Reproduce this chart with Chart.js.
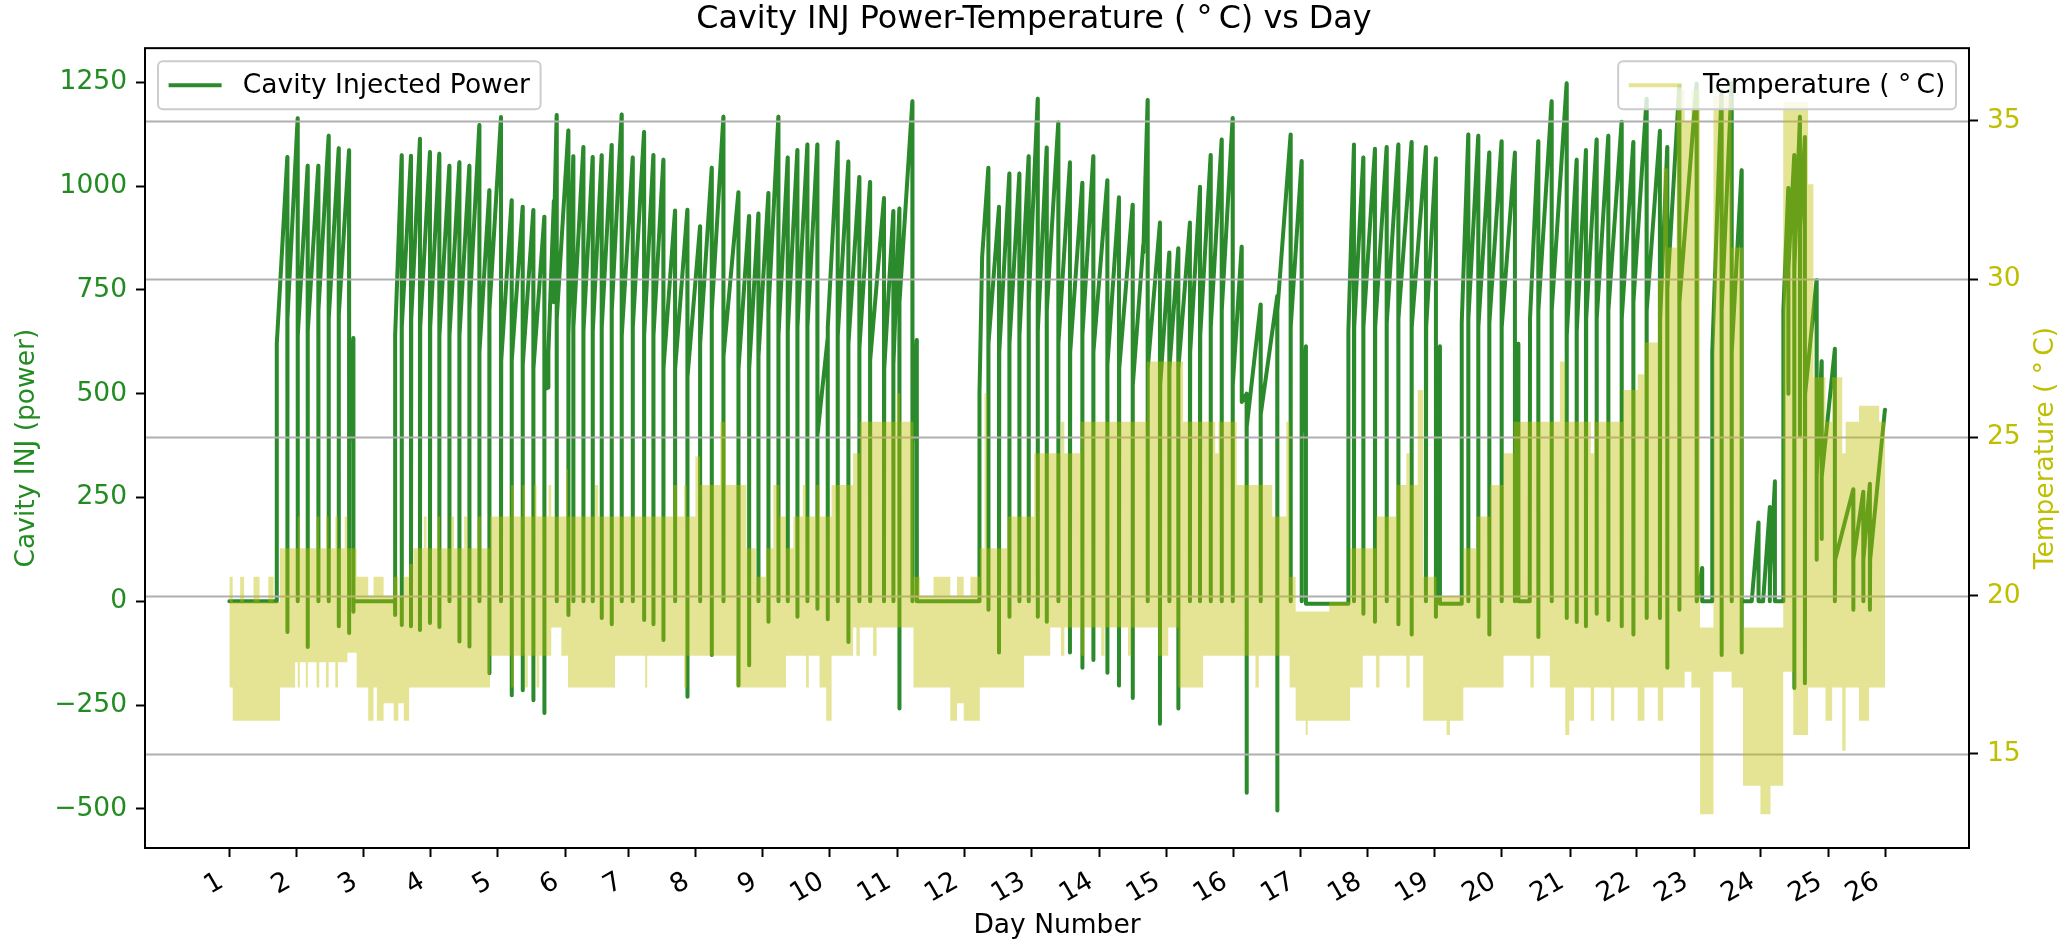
<!DOCTYPE html>
<html>
<head>
<meta charset="utf-8">
<title>Cavity INJ Power-Temperature vs Day</title>
<script src="https://cdn.jsdelivr.net/npm/chart.js@4.4.1/dist/chart.umd.min.js"></script>
<style>
  html, body { margin: 0; padding: 0; background: #ffffff; }
  #wrap { width: 2068px; height: 949px; position: relative; }
</style>
</head>
<body>
<div id="wrap"><canvas id="chart"></canvas></div>
<script>
// ---------- data ----------
// x is a continuous "day position"; the day ticks sit where the picture puts them
const dayTickPos = [1.000, 2.005, 2.998, 4.003, 5.002, 6.005, 6.949, 7.950, 8.957, 9.956,
  10.959, 11.960, 12.959, 13.971, 14.970, 15.970, 16.974, 17.973, 18.976, 19.975,
  20.992, 21.983, 22.841, 23.838, 24.841, 25.692];
const dayTickLabels = ['1', '2', '3', '4', '5', '6', '7', '8', '9', '10', '11', '12', '13',
  '14', '15', '16', '17', '18', '19', '20', '21', '22', '23', '24', '25', '26'];
const powerTicks = [-500, -250, 0, 250, 500, 750, 1000, 1250];
const tempTicks = [15, 20, 25, 30, 35];

// power sawtooth: one row per cycle -> peak, value right after the drop, value after the fast rise
const peakDay = [
  1.000, 1.705, 1.864, 2.018, 2.167, 2.326, 2.480, 2.630, 2.784, 2.848,
  3.470, 3.569, 3.708, 3.842, 3.991, 4.130, 4.280, 4.429, 4.578, 4.727,
  4.876, 5.050, 5.209, 5.373, 5.532, 5.696, 5.755, 5.838, 5.880, 6.054,
  6.128, 6.278, 6.417, 6.551, 6.700, 6.849, 7.014, 7.183, 7.322, 7.471,
  7.645, 7.829, 8.018, 8.192, 8.366, 8.590, 8.749, 8.888, 9.037, 9.186,
  9.325, 9.469, 9.618, 9.767, 9.921, 10.070, 10.229, 10.393, 10.553, 10.761,
  10.900, 10.990, 11.184, 11.249, 12.183, 12.225, 12.317, 12.476, 12.630, 12.779,
  12.918, 13.053, 13.187, 13.360, 13.534, 13.718, 13.882, 14.091, 14.265, 14.469,
  14.628, 14.692, 14.876, 15.015, 15.149, 15.323, 15.473, 15.632, 15.796, 15.960,
  16.094, 16.168, 16.377, 16.625, 16.824, 16.988, 17.053, 17.684, 17.769, 17.908,
  18.082, 18.256, 18.430, 18.628, 18.842, 18.991, 19.051, 19.374, 19.473, 19.622,
  19.786, 19.970, 20.169, 20.219, 20.390, 20.517, 20.716, 20.940, 21.089, 21.228,
  21.387, 21.561, 21.760, 21.934, 22.132, 22.331, 22.440, 22.620, 22.878, 22.960,
  23.110, 23.250, 23.400, 23.549, 23.700, 23.800, 23.870, 23.970, 24.046, 24.170,
  24.245, 24.334, 24.419, 24.493, 24.667, 24.742, 24.940, 25.214, 25.363, 25.462,
  25.686];
const peakPower = [
  0, 0, 1070, 1163, 1049, 1049, 1121, 1091, 1086, 634,
  0, 1074, 1073, 1114, 1082, 1078, 1049, 1057, 1049, 1147,
  990, 1166, 966, 950, 942, 926, 515, 964, 1171, 1134,
  1072, 1094, 1070, 1074, 1099, 1172, 1069, 1130, 1075, 1063,
  941, 943, 903, 1044, 1167, 985, 928, 934, 983, 1167,
  1069, 1087, 1100, 1100, 633, 1106, 1059, 1022, 1010, 971,
  940, 946, 1204, 629, 0, 830, 1044, 950, 1030, 1030,
  1072, 1210, 1093, 1153, 1057, 1008, 1072, 1014, 973, 955,
  860, 1207, 912, 840, 850, 912, 998, 1075, 1112, 1164,
  854, 500, 715, 735, 1124, 1060, 614, -6, 1100, 1069,
  1090, 1094, 1100, 1106, 1094, 1067, 614, -6, 1124, 1121,
  1081, 1108, 1081, 620, 0, 1108, 1204, 1247, 1063, 1087,
  1112, 1121, 1155, 1106, 1210, 1133, 1094, 1241, 1247, 80,
  0, 1229, 1247, 1038, 0, 190, 0, 227, 289, 0,
  995, 1075, 1167, 1118, 774, 578, 608, 270, 264, 283,
  461];
const dropPower = [
  0, 0, -74, 0, -110, 0, 0, -60, -76, -25,
  -33, -57, -60, -69, -52, -62, 0, -97, -109, 0,
  -173, 0, -226, -214, -238, -269, 515, 720, 0, -33,
  0, 0, 0, -40, -55, 0, 0, -45, -55, -93,
  0, -230, 0, -129, 0, -203, -154, 0, -49, 0,
  0, -37, 0, -18, -43, 0, -98, 0, 0, 0,
  0, -258, 0, 0, 0, 830, -20, -123, -37, 0,
  0, -37, -49, 0, -123, -160, -141, -172, -203, -233,
  840, 0, -295, 0, -258, 0, 0, 0, 0, 0,
  480, -461, 0, -504, 0, 0, -6, -6, 0, -30,
  -49, 0, -55, -80, 0, -37, -6, -6, 0, -37,
  -80, 0, 0, 0, 0, -86, 0, -40, -50, -60,
  -30, -45, -60, -80, -40, -40, -160, -20, 0, 0,
  0, -129, 0, -123, 0, 0, 0, 0, 0, 0,
  500, -209, 400, -197, 100, 150, 0, -20, 0, -20,
  461];
const kneePower = [
  0, 620, 680, 640, 650, 700, 680, 690, 380, 0,
  640, 660, 680, 660, 660, 640, 640, 640, 700, 600,
  700, 580, 580, 570, 560, 510, 600, 900, 680, 640,
  660, 650, 650, 660, 700, 640, 660, 640, 640, 560,
  560, 540, 620, 700, 590, 560, 560, 590, 700, 640,
  650, 660, 660, 400, 660, 640, 620, 610, 580, 560,
  570, 720, 380, 0, 500, 830, 620, 600, 620, 640,
  720, 650, 700, 620, 600, 640, 600, 570, 560, 520,
  850, 560, 520, 560, 560, 600, 640, 660, 700, 520,
  480, 420, 450, 700, 660, 400, -6, 650, 660, 660,
  660, 670, 680, 660, 660, 380, -6, 670, 680, 660,
  670, 660, 380, 0, 680, 700, 700, 640, 650, 680,
  680, 700, 680, 720, 700, 680, 750, 720, 0, 0,
  600, 700, 600, 0, 0, 0, 0, 60, 0, 700,
  800, 800, 900, 500, 300, 300, 100, 100, 100, 100,
  461];

// temperature: the fast oscillation reads as a band, kept as its upper / lower envelope
const tempDay = [
  1.00, 1.05, 1.16, 1.22, 1.36, 1.45, 1.58, 1.66, 1.755, 1.98,
  2.02, 2.05, 2.14, 2.17, 2.30, 2.34, 2.44, 2.48, 2.58, 2.62,
  2.72, 2.76, 2.898, 3.07, 3.15, 3.20, 3.30, 3.45, 3.52, 3.60,
  3.68, 3.743, 3.90, 3.94, 4.10, 4.14, 4.30, 4.35, 4.50, 4.55,
  4.70, 4.75, 4.886, 5.20, 5.24, 5.37, 5.41, 5.45, 5.54, 5.58,
  5.62, 5.76, 5.80, 5.95, 6.02, 6.05, 6.45, 6.50, 6.75, 7.20,
  7.23, 7.62, 7.68, 7.78, 7.82, 7.95, 8.02, 8.32, 8.40, 8.56,
  8.71, 8.85, 9.00, 9.11, 9.20, 9.30, 9.41, 9.55, 9.60, 9.64,
  9.75, 9.80, 9.90, 9.98, 10.30, 10.35, 10.40, 10.60, 10.65, 10.95,
  11.00, 11.20, 11.30, 11.50, 11.75, 11.85, 11.95, 12.05, 12.19, 12.26,
  12.30, 12.60, 12.85, 13.00, 13.24, 13.40, 13.45, 13.70, 13.75, 14.00,
  14.05, 14.40, 14.45, 14.68, 14.85, 15.00, 15.15, 15.22, 15.52, 15.70,
  15.75, 16.02, 16.30, 16.35, 16.55, 16.76, 16.81, 16.90, 17.05, 17.08,
  17.40, 17.71, 17.90, 18.10, 18.15, 18.40, 18.55, 18.60, 18.72, 18.80,
  19.00, 19.15, 19.20, 19.40, 19.60, 19.80, 20.00, 20.15, 20.40, 20.45,
  20.69, 20.84, 20.92, 20.98, 21.05, 21.30, 21.35, 21.60, 21.65, 21.78,
  22.00, 22.10, 22.30, 22.38, 22.45, 22.58, 22.70, 22.80, 22.93, 23.13,
  23.40, 23.57, 23.83, 23.98, 24.17, 24.32, 24.54, 24.62, 24.80, 24.90,
  25.05, 25.10, 25.30, 25.45, 25.60, 25.69];
const tempHigh = [
  20.6, 19.8, 20.6, 19.8, 20.6, 19.8, 20.6, 19.8, 21.5, 21.5,
  22.5, 21.5, 21.5, 21.5, 22.5, 21.5, 22.5, 21.5, 22.5, 21.5,
  22.5, 21.5, 20.6, 20.0, 20.6, 20.6, 20.0, 20.6, 20.0, 20.6,
  21.0, 21.5, 22.5, 21.5, 22.5, 21.5, 22.5, 21.5, 22.5, 21.5,
  22.5, 21.5, 22.5, 23.5, 22.5, 23.5, 22.5, 22.5, 23.5, 22.5,
  22.5, 23.5, 22.5, 22.5, 24.0, 22.5, 23.5, 22.5, 22.5, 22.5,
  22.5, 23.5, 22.5, 23.5, 22.5, 24.4, 23.5, 25.5, 23.5, 23.5,
  21.5, 20.6, 21.5, 23.5, 22.5, 21.5, 22.5, 23.5, 22.5, 22.5,
  23.5, 22.5, 22.5, 23.5, 24.5, 24.5, 25.5, 25.5, 25.5, 26.4,
  25.5, 20.6, 20.0, 20.6, 20.0, 20.6, 20.0, 20.6, 21.5, 26.4,
  21.5, 22.5, 22.5, 24.5, 24.5, 25.5, 24.5, 25.5, 25.5, 25.5,
  25.5, 25.5, 25.5, 27.4, 27.4, 27.4, 27.4, 25.5, 25.5, 24.5,
  25.5, 23.5, 23.5, 23.5, 22.5, 25.5, 20.6, 19.5, 19.5, 19.5,
  19.8, 21.5, 21.5, 22.5, 22.5, 23.5, 24.5, 23.5, 26.5, 20.6,
  20.0, 20.0, 20.0, 21.5, 22.5, 23.5, 24.5, 25.5, 25.5, 25.5,
  25.5, 27.4, 25.5, 25.5, 25.5, 24.5, 25.5, 25.5, 25.5, 26.5,
  27.0, 28.0, 30.0, 33.5, 31.0, 36.0, 35.0, 36.0, 19.0, 35.8,
  31.0, 19.0, 19.0, 19.0, 35.6, 35.6, 33.0, 26.9, 25.5, 26.9,
  24.5, 25.5, 26.0, 26.0, 25.5, 25.5];
const tempLow = [
  17.1, 16.05, 16.05, 16.05, 16.05, 16.05, 16.05, 16.05, 17.1, 17.9,
  17.1, 17.9, 17.1, 17.9, 17.1, 17.9, 17.1, 17.9, 17.1, 17.9,
  17.9, 18.2, 17.1, 16.05, 17.1, 16.05, 16.6, 16.05, 16.6, 16.05,
  17.1, 17.1, 17.1, 17.1, 17.1, 17.1, 17.1, 17.1, 17.1, 17.1,
  17.1, 17.1, 18.1, 17.1, 18.1, 18.1, 17.1, 18.1, 18.1, 17.1,
  18.1, 18.1, 19.0, 18.1, 18.1, 17.1, 17.1, 17.1, 18.1, 17.1,
  18.1, 18.1, 18.1, 17.1, 18.1, 18.1, 18.1, 18.1, 18.1, 17.1,
  17.1, 17.1, 17.1, 17.1, 17.1, 18.1, 18.1, 18.1, 17.1, 18.1,
  18.1, 17.1, 16.05, 18.1, 19.0, 18.1, 19.0, 18.1, 19.0, 19.0,
  19.0, 17.1, 17.1, 17.1, 16.05, 16.6, 16.05, 16.05, 17.1, 17.1,
  17.1, 17.1, 18.1, 18.1, 19.0, 18.1, 19.0, 18.1, 19.0, 18.1,
  19.0, 18.1, 19.0, 19.0, 18.1, 19.0, 17.1, 17.1, 18.1, 18.1,
  18.1, 18.1, 17.1, 18.1, 18.1, 18.1, 17.1, 16.05, 15.6, 16.05,
  16.05, 17.1, 18.1, 17.1, 18.1, 18.1, 17.1, 18.1, 18.1, 16.05,
  16.05, 15.6, 16.05, 17.1, 17.1, 17.1, 18.1, 18.1, 17.1, 18.1,
  17.1, 17.1, 15.6, 16.05, 17.1, 16.05, 17.1, 16.05, 17.1, 17.1,
  16.05, 17.1, 16.05, 17.1, 17.1, 17.1, 17.6, 17.1, 13.1, 17.6,
  17.1, 14.0, 13.1, 14.0, 17.6, 15.6, 17.1, 17.1, 16.05, 17.1,
  15.1, 17.1, 16.05, 17.1, 17.1, 17.1];

// ---------- look ----------
const FONT = "'DejaVu Sans', 'Liberation Sans', sans-serif";
const GREEN_LINE = '#2b8a2b';
const GREEN_TEXT = '#228b22';
const YELLOW_TEXT = '#bfbf00';
const TEMP_COLOR = 'rgba(191, 191, 0, 0.42)';
const DEG = '( \u00b0\u2009C)';
const RISE_DX = 0.004; // the fast rise after each drop is not quite vertical

Chart.defaults.font.family = FONT;
Chart.defaults.font.size = 26.5;
Chart.defaults.color = '#000';

// drop, then fast rise, then a climb to the next peak
const powerPoints = [];
peakDay.forEach((d, i) => {
  powerPoints.push({ x: d, y: peakPower[i] });
  powerPoints.push({ x: d, y: dropPower[i] });
  powerPoints.push({ x: d + RISE_DX, y: kneePower[i] });
});
const tempHighPts = tempDay.map((d, i) => ({ x: d, y: tempHigh[i] }));
const tempLowPts = tempDay.map((d, i) => ({ x: d, y: tempLow[i] }));

// grid of the temperature axis sits above the power line but under the temperature
const gridPlugin = {
  id: 'twinGrid',
  afterDatasetDraw(chart, args) {
    if (args.index !== 0) return;
    const { ctx, chartArea: a } = chart;
    const s = chart.scales.y2;
    ctx.save();
    ctx.strokeStyle = '#b0b0b0';
    ctx.lineWidth = 2;
    tempTicks.forEach((t) => {
      const y = Math.round(s.getPixelForValue(t)) + 0.5;
      ctx.beginPath();
      ctx.moveTo(a.left, y);
      ctx.lineTo(a.right, y);
      ctx.stroke();
    });
    ctx.restore();
  }
};

function legendBox(ctx, x, y, side, text, color) {
  const pad = 10.6, handle = 53, gap = 21.2, h = 48;
  const w = pad + handle + gap + ctx.measureText(text).width + pad;
  const left = side === 'left' ? x : x - w;
  const r = 5;
  ctx.beginPath();
  ctx.moveTo(left + r, y);
  ctx.arcTo(left + w, y, left + w, y + h, r);
  ctx.arcTo(left + w, y + h, left, y + h, r);
  ctx.arcTo(left, y + h, left, y, r);
  ctx.arcTo(left, y, left + w, y, r);
  ctx.closePath();
  ctx.fillStyle = 'rgba(255,255,255,0.8)';
  ctx.fill();
  ctx.strokeStyle = '#cccccc';
  ctx.lineWidth = 2;
  ctx.stroke();
  const cy = y + h / 2;
  ctx.beginPath();
  ctx.moveTo(left + pad, cy);
  ctx.lineTo(left + pad + handle, cy);
  ctx.strokeStyle = color;
  ctx.lineWidth = 4;
  ctx.stroke();
  ctx.fillStyle = '#000';
  ctx.textAlign = 'left';
  ctx.textBaseline = 'middle';
  ctx.fillText(text, left + pad + handle + gap, cy + 1);
}

const framePlugin = {
  id: 'frameAndLegends',
  afterDatasetsDraw(chart) {
    const { ctx, chartArea: a } = chart;
    ctx.save();
    ctx.strokeStyle = '#000';
    ctx.lineWidth = 2;
    ctx.strokeRect(a.left, a.top, a.right - a.left, a.bottom - a.top);
    ctx.restore();
  },
  afterDraw(chart) {
    const { ctx, chartArea: a } = chart;
    ctx.save();
    ctx.font = '26.5px ' + FONT;
    legendBox(ctx, a.left + 13, a.top + 13, 'left', 'Cavity Injected Power', GREEN_LINE);
    legendBox(ctx, a.right - 13, a.top + 13, 'right', 'Temperature ' + DEG, TEMP_COLOR);
    // right axis title reads bottom-to-top like the left one
    ctx.translate(2046, (a.top + a.bottom) / 2);
    ctx.rotate(-Math.PI / 2);
    ctx.textAlign = 'center';
    ctx.textBaseline = 'middle';
    ctx.fillStyle = YELLOW_TEXT;
    ctx.fillText('Temperature ' + DEG, 0, 0);
    ctx.restore();
  }
};

const tickGrid = { drawOnChartArea: false, drawTicks: true, tickLength: 9, tickWidth: 2, tickColor: '#000' };

new Chart(document.getElementById('chart'), {
  type: 'line',
  data: {
    datasets: [
      {
        label: 'Cavity Injected Power',
        data: powerPoints,
        yAxisID: 'y',
        borderColor: GREEN_LINE,
        borderWidth: 4,
        borderJoinStyle: 'round',
        borderCapStyle: 'round',
        tension: 0,
        pointRadius: 0,
        fill: false,
        order: 2
      },
      {
        label: 'Temperature ' + DEG,
        data: tempHighPts,
        yAxisID: 'y2',
        stepped: true,
        borderWidth: 0,
        borderColor: 'transparent',
        backgroundColor: TEMP_COLOR,
        fill: '+1',
        pointRadius: 0,
        order: 1
      },
      {
        label: 'temperature low',
        data: tempLowPts,
        yAxisID: 'y2',
        stepped: true,
        borderWidth: 0,
        borderColor: 'transparent',
        fill: false,
        pointRadius: 0,
        order: 1
      }
    ]
  },
  options: {
    animation: false,
    responsive: true,
    maintainAspectRatio: false,
    layout: { padding: 0 },
    plugins: {
      legend: { display: false },
      tooltip: { enabled: false },
      title: {
        display: true,
        text: 'Cavity INJ Power-Temperature ' + DEG + ' vs Day',
        color: '#000',
        font: { size: 31.8, weight: 'normal' },
        padding: { top: 1, bottom: 9 }
      }
    },
    scales: {
      x: {
        type: 'linear',
        min: -0.258,
        max: 26.94,
        afterBuildTicks: (s) => { s.ticks = dayTickPos.map((v) => ({ value: v })); },
        afterFit: (s) => { s.height = 101; },
        ticks: {
          autoSkip: false,
          minRotation: 30,
          maxRotation: 30,
          padding: 9,
          labelOffset: -8,
          color: '#000',
          callback: (v, i) => dayTickLabels[i]
        },
        grid: tickGrid,
        border: { display: false },
        title: { display: true, text: 'Day Number', color: '#000', padding: { top: 0, bottom: 7 } }
      },
      y: {
        type: 'linear',
        position: 'left',
        min: -594,
        max: 1332,
        afterBuildTicks: (s) => { s.ticks = powerTicks.map((v) => ({ value: v })); },
        afterFit: (s) => { s.width = 145; },
        ticks: {
          color: GREEN_TEXT,
          padding: 9,
          callback: (v) => (v < 0 ? '\u2212' + Math.abs(v) : String(v))
        },
        grid: tickGrid,
        border: { display: false },
        title: { display: true, text: 'Cavity INJ (power)', color: GREEN_TEXT, padding: { top: 11, bottom: 0 } }
      },
      y2: {
        type: 'linear',
        position: 'right',
        min: 12.03,
        max: 37.3,
        afterBuildTicks: (s) => { s.ticks = tempTicks.map((v) => ({ value: v })); },
        afterFit: (s) => { s.width = 99; },
        ticks: { color: YELLOW_TEXT, padding: 9 },
        grid: tickGrid,
        border: { display: false }
      }
    }
  },
  plugins: [gridPlugin, framePlugin]
});
</script>
</body>
</html>
